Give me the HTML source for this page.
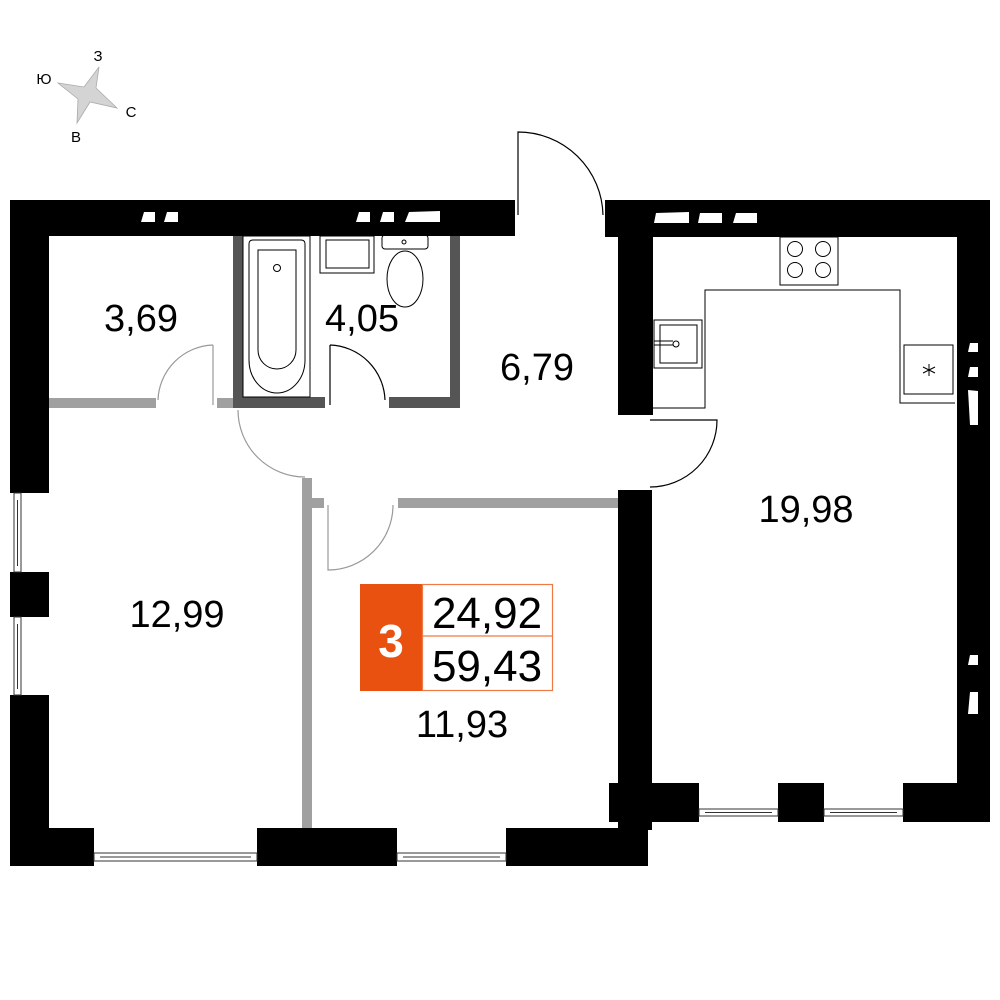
<!DOCTYPE html>
<html><head><meta charset="utf-8"><style>
html,body{margin:0;padding:0;background:#fff}
svg{display:block}
text{font-family:"Liberation Sans",sans-serif}
</style></head><body>
<svg width="1000" height="1000" viewBox="0 0 1000 1000" xmlns="http://www.w3.org/2000/svg">
<!-- compass -->
<polygon points="99,67 96,88 117,108 90,102 77,123 78,99 58,83 84,87" fill="#d4d4d4" stroke="#aaa" stroke-width="0.8"/>
<text x="98" y="61" font-size="15" text-anchor="middle">З</text>
<text x="44" y="84" font-size="15" text-anchor="middle">Ю</text>
<text x="131" y="117" font-size="15" text-anchor="middle">С</text>
<text x="76" y="142" font-size="15" text-anchor="middle">В</text>

<g fill="#000">
<rect x="10" y="200" width="505" height="36"/>
<rect x="10" y="200" width="39" height="293"/>
<rect x="10" y="572" width="39" height="45"/>
<rect x="10" y="695" width="39" height="171"/>
<rect x="10" y="828" width="84" height="38"/>
<rect x="257" y="828" width="140" height="38"/>
<rect x="506" y="828" width="142" height="38"/>
<rect x="609" y="783" width="90" height="39"/>
<rect x="618" y="490" width="34" height="340"/>
<rect x="605" y="200" width="385" height="37"/>
<rect x="618" y="200" width="35" height="215"/>
<rect x="957" y="200" width="33" height="622"/>
<rect x="778" y="783" width="46" height="39"/>
<rect x="903" y="783" width="87" height="39"/>
</g>
<g fill="#fff">
<polygon points="144,212 155,212 155,222 141,222"/>
<polygon points="167,212 178,212 178,222 164,222"/>
<polygon points="359,212 370,212 370,222 356,222"/>
<polygon points="383,212 394,212 394,222 380,222"/>
<polygon points="409,212 440,211 440,222 405,222"/>
<polygon points="656,213 689,212 689,223 654,223"/>
<polygon points="700,213 722,213 722,223 698,223"/>
<polygon points="736,213 757,213 757,223 733,223"/>
<polygon points="970,343 978,343 978,352 968,352"/>
<polygon points="970,367 978,367 978,377 968,377"/>
<polygon points="968,390 978,391 978,425 970,425"/>
<polygon points="970,655 978,655 978,665 968,665"/>
<polygon points="970,692 978,692 978,714 968,714"/>
</g>
<g fill="#fff" stroke="#333" stroke-width="1">
<rect x="14" y="493" width="7" height="79"/><line x1="17.5" y1="500" x2="17.5" y2="566"/>
<rect x="14" y="617" width="7" height="78"/><line x1="17.5" y1="624" x2="17.5" y2="689"/>
<rect x="94" y="853" width="163" height="8"/><line x1="100" y1="857" x2="251" y2="857"/>
<rect x="397" y="853" width="109" height="8"/><line x1="403" y1="857" x2="500" y2="857"/>
<rect x="699" y="809" width="79" height="7"/><line x1="705" y1="812.5" x2="772" y2="812.5"/>
<rect x="824" y="809" width="79" height="7"/><line x1="830" y1="812.5" x2="897" y2="812.5"/>
</g>
<g fill="#555">
<rect x="233" y="236" width="10" height="172"/>
<rect x="233" y="397" width="92" height="11"/>
<rect x="389" y="397" width="71" height="11"/>
<rect x="450" y="236" width="10" height="172"/>
</g>
<g fill="#a0a0a0">
<rect x="49" y="398" width="107" height="10"/>
<rect x="217" y="398" width="16" height="10"/>
<rect x="302" y="478" width="10" height="350"/>
<rect x="312" y="498" width="12" height="10"/>
<rect x="398" y="498" width="220" height="10"/>
</g>
<g fill="none" stroke="#999" stroke-width="1.2">
<path d="M213,345 L213,405 M213,345 A57,57 0 0 0 158,400"/>
<path d="M238,410 A67,67 0 0 0 305,477"/>
<path d="M328,505 L328,570 A65,65 0 0 0 393,505"/>
</g>
<g fill="none" stroke="#000" stroke-width="1.2">
<path d="M330,345 L330,405 M330,345 A57,57 0 0 1 385,400"/>
<path d="M518,215 L518,132 A85,85 0 0 1 603,215"/>
<path d="M650,420 L717,420 A67,67 0 0 1 650,487"/>
</g>
<g fill="none" stroke="#000" stroke-width="1">
<rect x="243" y="236" width="67" height="161"/>
<path d="M249,244 Q249,240 253,240 L301,240 Q305,240 305,244 L305,360 A28,33 0 0 1 249,360 Z"/>
<path d="M258,250 L296,250 L296,350 A19,19 0 0 1 258,350 Z"/>
<circle cx="277" cy="268" r="3.5"/>
<rect x="320" y="236" width="54" height="37"/>
<rect x="326" y="240" width="43" height="28"/>
<rect x="382" y="235" width="46" height="14" rx="3"/>
<circle cx="404" cy="242" r="2"/>
<ellipse cx="405" cy="279" rx="18" ry="28"/>
<path d="M653,408 L705,408 L705,290 L900,290 L900,403 L955,403"/>
<rect x="780" y="237" width="58" height="48"/>
<circle cx="795" cy="249" r="7.5"/><circle cx="823" cy="249" r="7.5"/>
<circle cx="795" cy="270" r="7.5"/><circle cx="823" cy="270" r="7.5"/>
<rect x="654" y="320" width="48" height="48"/>
<rect x="660" y="325" width="37" height="38"/>
<path d="M654,341 L673,341 M654,345 L673,345"/><circle cx="676" cy="344" r="3"/>
<rect x="904" y="345" width="49" height="49"/>
<path d="M929,364 L929,376 M923,367 L935,373 M935,367 L923,373"/>
</g>
<g font-size="38" text-anchor="middle" fill="#000">
<text x="141" y="331">3,69</text>
<text x="362" y="331">4,05</text>
<text x="537" y="380">6,79</text>
<text x="806" y="522">19,98</text>
<text x="177" y="627">12,99</text>
<text x="462" y="737">11,93</text>
</g>
<rect x="360" y="584" width="62" height="107" fill="#e8510f"/>
<rect x="422.5" y="584.5" width="130" height="106" fill="#fff" stroke="#ef7a45" stroke-width="1.2"/>
<line x1="422" y1="636" x2="553" y2="636" stroke="#ef7a45" stroke-width="1.2"/>
<text x="391" y="657" font-size="46" font-weight="bold" fill="#fff" text-anchor="middle">3</text>
<text x="487" y="628" font-size="44" text-anchor="middle">24,92</text>
<text x="487" y="681" font-size="44" text-anchor="middle">59,43</text>
</svg>
</body></html>
